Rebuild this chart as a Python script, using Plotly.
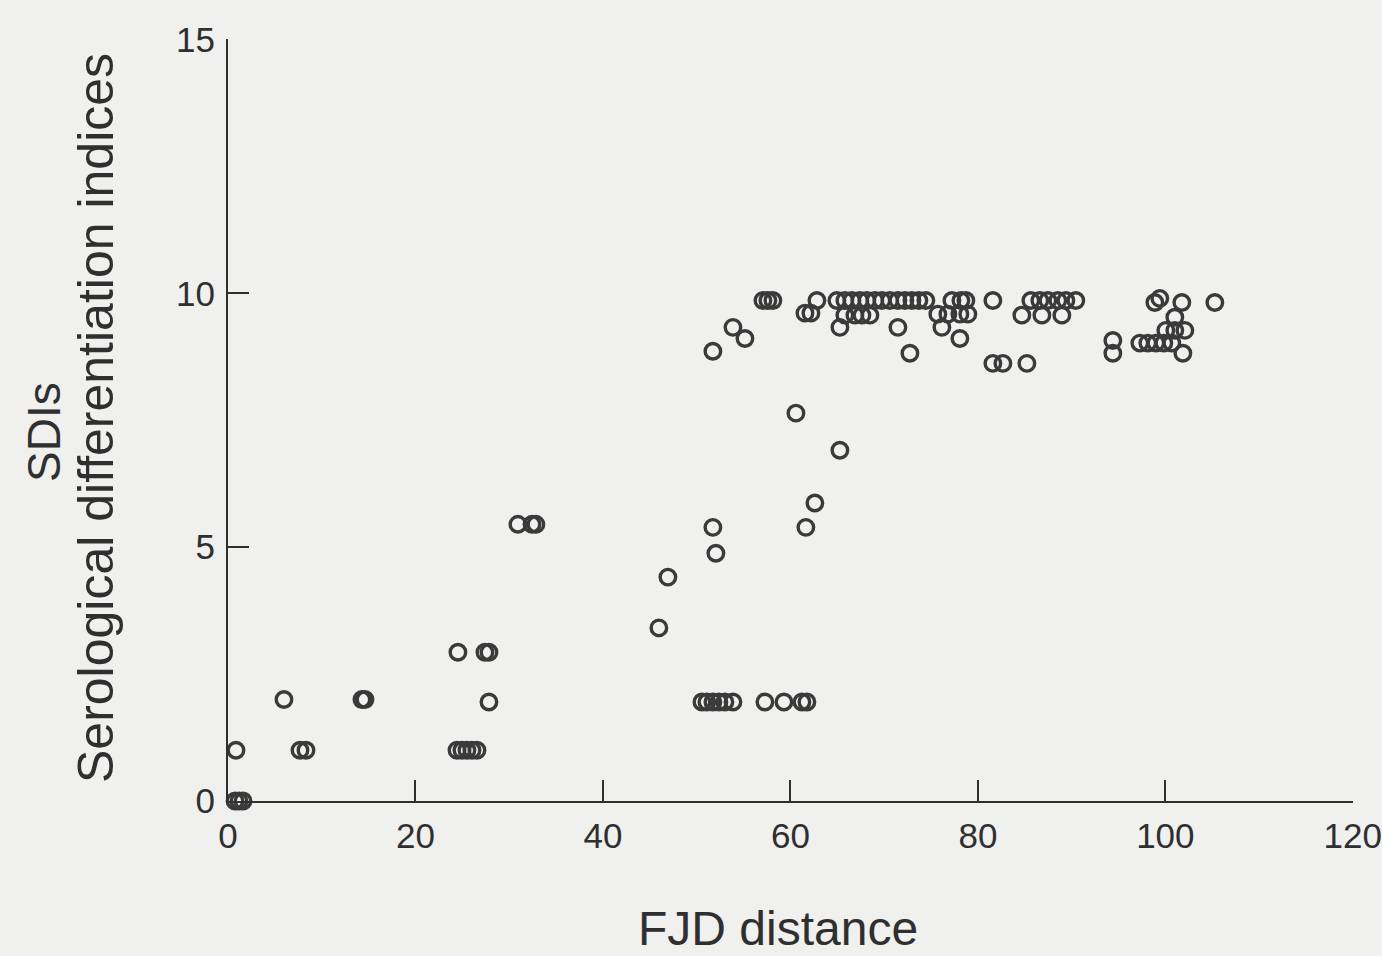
import plotly.graph_objects as go

# FJD distance (x) and serological differentiation index (y) for each pair
fjd = [
    0.75, 1.17, 1.6, 0.85, 5.97, 7.68, 8.32, 14.29, 14.61,
    24.43, 24.96, 25.49, 26.03, 26.56, 24.53, 27.41, 27.84, 27.84,
    30.93, 32.43, 32.85, 45.97, 46.93, 51.73, 52.05, 51.73, 53.87, 55.15,
    50.56, 51.09, 51.73, 52.37, 53.01, 53.87,
    57.28, 59.31, 61.23, 61.76,
    61.65, 62.61, 60.59, 65.28,
    57.07, 57.6, 58.13, 61.55, 62.19, 62.83,
    64.96, 65.81, 66.56, 67.41, 68.16, 69.01, 69.76, 70.61, 71.47, 72.21, 72.96, 73.71, 74.45,
    65.81, 66.88, 67.63, 68.48, 65.28, 71.47, 72.75,
    77.23, 78.19, 78.72, 75.73, 76.8, 78.08, 78.93, 76.16, 78.08,
    81.6, 81.6, 82.67, 85.23,
    85.65, 86.61, 87.47, 88.53, 89.39, 90.45, 84.69, 86.83, 88.96,
    94.4, 94.4, 98.88, 99.41, 101.76, 105.28, 101.01,
    100.05, 101.01, 102.08,
    97.28, 98.13, 98.99, 99.84, 100.69, 101.87,
]
sdi = [
    0, 0, 0, 1.0, 2.0, 1.0, 1.0, 2.0, 2.0,
    1.0, 1.0, 1.0, 1.0, 1.0, 2.93, 2.93, 2.93, 1.95,
    5.45, 5.45, 5.45, 3.41, 4.41, 5.39, 4.88, 8.86, 9.33, 9.11,
    1.95, 1.95, 1.95, 1.95, 1.95, 1.95,
    1.95, 1.95, 1.95, 1.95,
    5.39, 5.87, 7.64, 6.91,
    9.86, 9.86, 9.86, 9.61, 9.61, 9.86,
    9.86, 9.86, 9.86, 9.86, 9.86, 9.86, 9.86, 9.86, 9.86, 9.86, 9.86, 9.86, 9.86,
    9.57, 9.57, 9.57, 9.57, 9.33, 9.33, 8.82,
    9.86, 9.86, 9.86, 9.59, 9.59, 9.59, 9.59, 9.33, 9.11,
    9.86, 8.62, 8.62, 8.62,
    9.86, 9.86, 9.86, 9.86, 9.86, 9.86, 9.57, 9.57, 9.57,
    9.07, 8.82, 9.82, 9.9, 9.82, 9.82, 9.53,
    9.27, 9.27, 9.27,
    9.02, 9.02, 9.02, 9.02, 9.02, 8.82,
]

x_ticks = [0, 20, 40, 60, 80, 100, 120]
y_ticks = [0, 5, 10, 15]

INK = "#2f2f2f"
RING = "#3a3a3a"
PAPER = "#f0f0ef"
FONT = "Liberation Sans, Arial, sans-serif"

fig = go.Figure(
    go.Scatter(
        x=fjd,
        y=sdi,
        mode="markers",
        marker=dict(symbol="circle", size=15.5, color="rgba(0,0,0,0)",
                    line=dict(width=3.4, color=RING)),
        cliponaxis=False,
        hoverinfo="x+y",
    )
)

axis_common = dict(
    showline=True, linecolor=INK, linewidth=2,
    ticks="inside", ticklen=21, tickwidth=1.6, tickcolor=INK,
    showgrid=False, zeroline=False,
    automargin=False,
    ticklabeloverflow="allow",
    tickfont=dict(family=FONT, size=35, color=INK),
)

fig.update_xaxes(range=[0, 120.02], tickvals=x_ticks, ticktext=[str(v) for v in x_ticks],
                 ticklabelstandoff=3, **axis_common)
fig.update_yaxes(range=[0, 15.01], tickvals=y_ticks, ticktext=[str(v) for v in y_ticks],
                 ticklabelstandoff=4, **axis_common)

fig.update_layout(
    width=1382, height=956,
    margin=dict(l=228, r=29, t=39, b=155),
    paper_bgcolor=PAPER, plot_bgcolor=PAPER,
    showlegend=False,
    font=dict(family=FONT, color=INK),
    annotations=[
        dict(text="FJD distance", xref="paper", yref="paper",
             x=(778 - 228) / (1353 - 228), y=-(928 - 801) / (801 - 39),
             xanchor="center", yanchor="middle", showarrow=False,
             font=dict(family=FONT, size=48, color=INK)),
        dict(text="SDIs", xref="paper", yref="paper",
             x=-(228 - 44) / (1353 - 228), y=(801 - 432) / (801 - 39),
             xanchor="center", yanchor="middle", showarrow=False, textangle=-90,
             font=dict(family=FONT, size=46, color=INK)),
        dict(text="Serological differentiation indices", xref="paper", yref="paper",
             x=-(228 - 96) / (1353 - 228), y=(801 - 418) / (801 - 39),
             xanchor="center", yanchor="middle", showarrow=False, textangle=-90,
             font=dict(family=FONT, size=50, color=INK)),
    ],
)

fig.write_html("out.html")
